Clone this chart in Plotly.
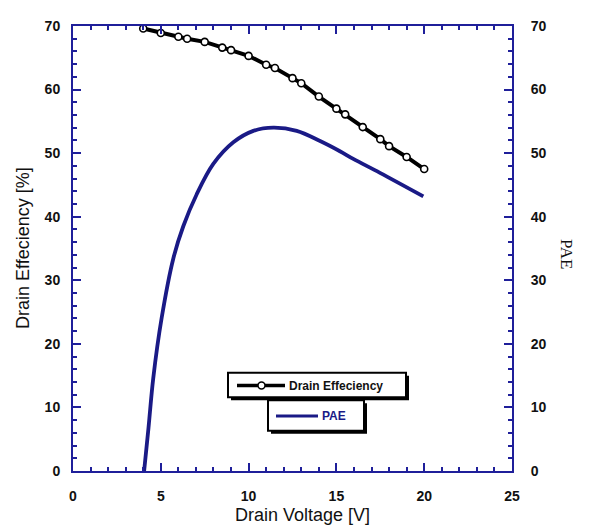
import plotly.graph_objects as go

# ---- data ----
drain_voltage_de = [4, 5, 6, 6.5, 7.5, 8.5, 9, 10, 11, 11.5, 12.5, 13, 14, 15, 15.5, 16.5, 17.5, 18, 19, 20]
drain_efficiency = [69.6, 68.9, 68.3, 68.0, 67.5, 66.6, 66.2, 65.3, 63.9, 63.4, 61.8, 61.0, 58.9, 57.0, 56.1, 54.1, 52.2, 51.1, 49.4, 47.5]

drain_voltage_pae = [4.05, 4.3, 4.57, 5.05, 5.71, 6.28, 7.04, 7.99, 9.13, 10.27, 11.41, 12.74, 14.07, 15.2, 15.96, 17.48, 19.95]
pae = [0, 6.8, 14.6, 24.1, 33.4, 38.5, 43.5, 48.3, 51.7, 53.5, 54.0, 53.5, 51.9, 50.3, 49.1, 46.9, 43.2]

x_ticks = [0, 5, 10, 15, 20, 25]
y_ticks = [0, 10, 20, 30, 40, 50, 60, 70]

AXIS = "#1f1f9a"
PAE_COLOR = "#1a1a86"
OFF = 8  # default body margin of the html page
W, H = 600 - OFF, 528 - OFF
# plot-area edges in page pixels
L, R, T, B = 73, 512, 18, 471


def px(x):
    return (x - L) / (R - L)


def py(y):
    return (B - y) / (B - T)


fig = go.Figure()
fig.add_trace(go.Scatter(
    x=drain_voltage_pae, y=pae, mode="lines", name="PAE",
    line=dict(color=PAE_COLOR, width=3.8, shape="spline", smoothing=1.0),
    yaxis="y2", showlegend=False,
))
fig.add_trace(go.Scatter(
    x=drain_voltage_de, y=drain_efficiency, mode="lines+markers", name="Drain Effeciency",
    line=dict(color="black", width=4),
    marker=dict(symbol="circle", size=7, color="white", line=dict(color="black", width=1.6)),
    cliponaxis=False, showlegend=False,
))

tickfont = dict(family="Liberation Sans, Arial", size=14, color="#111", weight="bold")

fig.update_layout(
    width=W, height=H,
    margin=dict(l=L - OFF, r=W - (R - OFF), t=T - OFF, b=H - (B - OFF), pad=0),
    plot_bgcolor="white", paper_bgcolor="white",
    xaxis=dict(
        range=[0, 25], tickvals=x_ticks, ticks="inside", ticklen=8, tickwidth=2, tickcolor=AXIS,
        showline=True, linecolor=AXIS, linewidth=2, mirror="ticks", showgrid=False, zeroline=False,
        minor=dict(dtick=1, ticks="inside", ticklen=4, tickwidth=2, tickcolor=AXIS, showgrid=False),
        tickfont=tickfont, ticklabelstandoff=11,
    ),
    yaxis=dict(
        range=[0, 70], tickvals=y_ticks, ticks="inside", ticklen=8, tickwidth=2, tickcolor=AXIS,
        showline=True, linecolor=AXIS, linewidth=2, mirror=True, showgrid=False, zeroline=False,
        minor=dict(dtick=2, ticks="inside", ticklen=4, tickwidth=2, tickcolor=AXIS, showgrid=False),
        tickfont=tickfont, ticklabelstandoff=8,
    ),
    yaxis2=dict(
        range=[0, 70], tickvals=y_ticks, ticks="inside", ticklen=8, tickwidth=2, tickcolor=AXIS,
        overlaying="y", side="right", showline=True, linecolor=AXIS, linewidth=2,
        showgrid=False, zeroline=False,
        minor=dict(dtick=2, ticks="inside", ticklen=4, tickwidth=2, tickcolor=AXIS, showgrid=False),
        tickfont=tickfont, ticklabelstandoff=14,
    ),
    showlegend=False,
)

# axis titles
title_font = dict(family="Liberation Sans, Arial", size=18, color="#111")
fig.add_annotation(x=px(302), y=py(516), xref="paper", yref="paper", text="Drain Voltage [V]",
                   showarrow=False, font=title_font, xanchor="center", yanchor="middle")
fig.add_annotation(x=px(23), y=py(244), xref="paper", yref="paper", text="Drain Effeciency [%]",
                   showarrow=False, textangle=-90, font=title_font,
                   xanchor="center", yanchor="middle")
fig.add_annotation(x=px(566), y=py(250), xref="paper", yref="paper", text="PAE",
                   showarrow=False, textangle=90,
                   font=dict(family="Liberation Serif, Times New Roman", size=17, color="#111"),
                   xanchor="center", yanchor="middle")

# legend boxes (with drop shadow)
shapes = []
def box(x0, y0, x1, y1):
    shapes.append(dict(type="rect", xref="paper", yref="paper",
                       x0=px(x0 + 3), x1=px(x1 + 3), y0=py(y0 + 3), y1=py(y1 + 3),
                       fillcolor="black", line=dict(color="black", width=0), layer="above"))
    shapes.append(dict(type="rect", xref="paper", yref="paper",
                       x0=px(x0), x1=px(x1), y0=py(y0), y1=py(y1),
                       fillcolor="white", line=dict(color="black", width=2), layer="above"))

box(228, 371, 406, 396)
box(268, 399, 364, 430)
shapes.append(dict(type="line", xref="paper", yref="paper", x0=px(237), x1=px(285), y0=py(384), y1=py(384),
                   line=dict(color="black", width=3.5), layer="above"))
shapes.append(dict(type="circle", xref="paper", yref="paper", x0=px(258), x1=px(265), y0=py(380.5), y1=py(387.5),
                   fillcolor="white", line=dict(color="black", width=1.5), layer="above"))
shapes.append(dict(type="line", xref="paper", yref="paper", x0=px(276), x1=px(318), y0=py(415), y1=py(415),
                   line=dict(color=PAE_COLOR, width=3), layer="above"))
fig.update_layout(shapes=shapes)

legfont = dict(family="Liberation Sans, Arial", size=12, color="#111", weight="bold")
fig.add_annotation(x=px(287), y=py(384), xref="paper", yref="paper", text="Drain Effeciency",
                   showarrow=False, font=legfont, xanchor="left", yanchor="middle")
fig.add_annotation(x=px(320), y=py(415), xref="paper", yref="paper", text="PAE",
                   showarrow=False, font=dict(family="Liberation Sans, Arial", size=12, color=PAE_COLOR, weight="bold"),
                   xanchor="left", yanchor="middle")

fig.write_html("out.html")
